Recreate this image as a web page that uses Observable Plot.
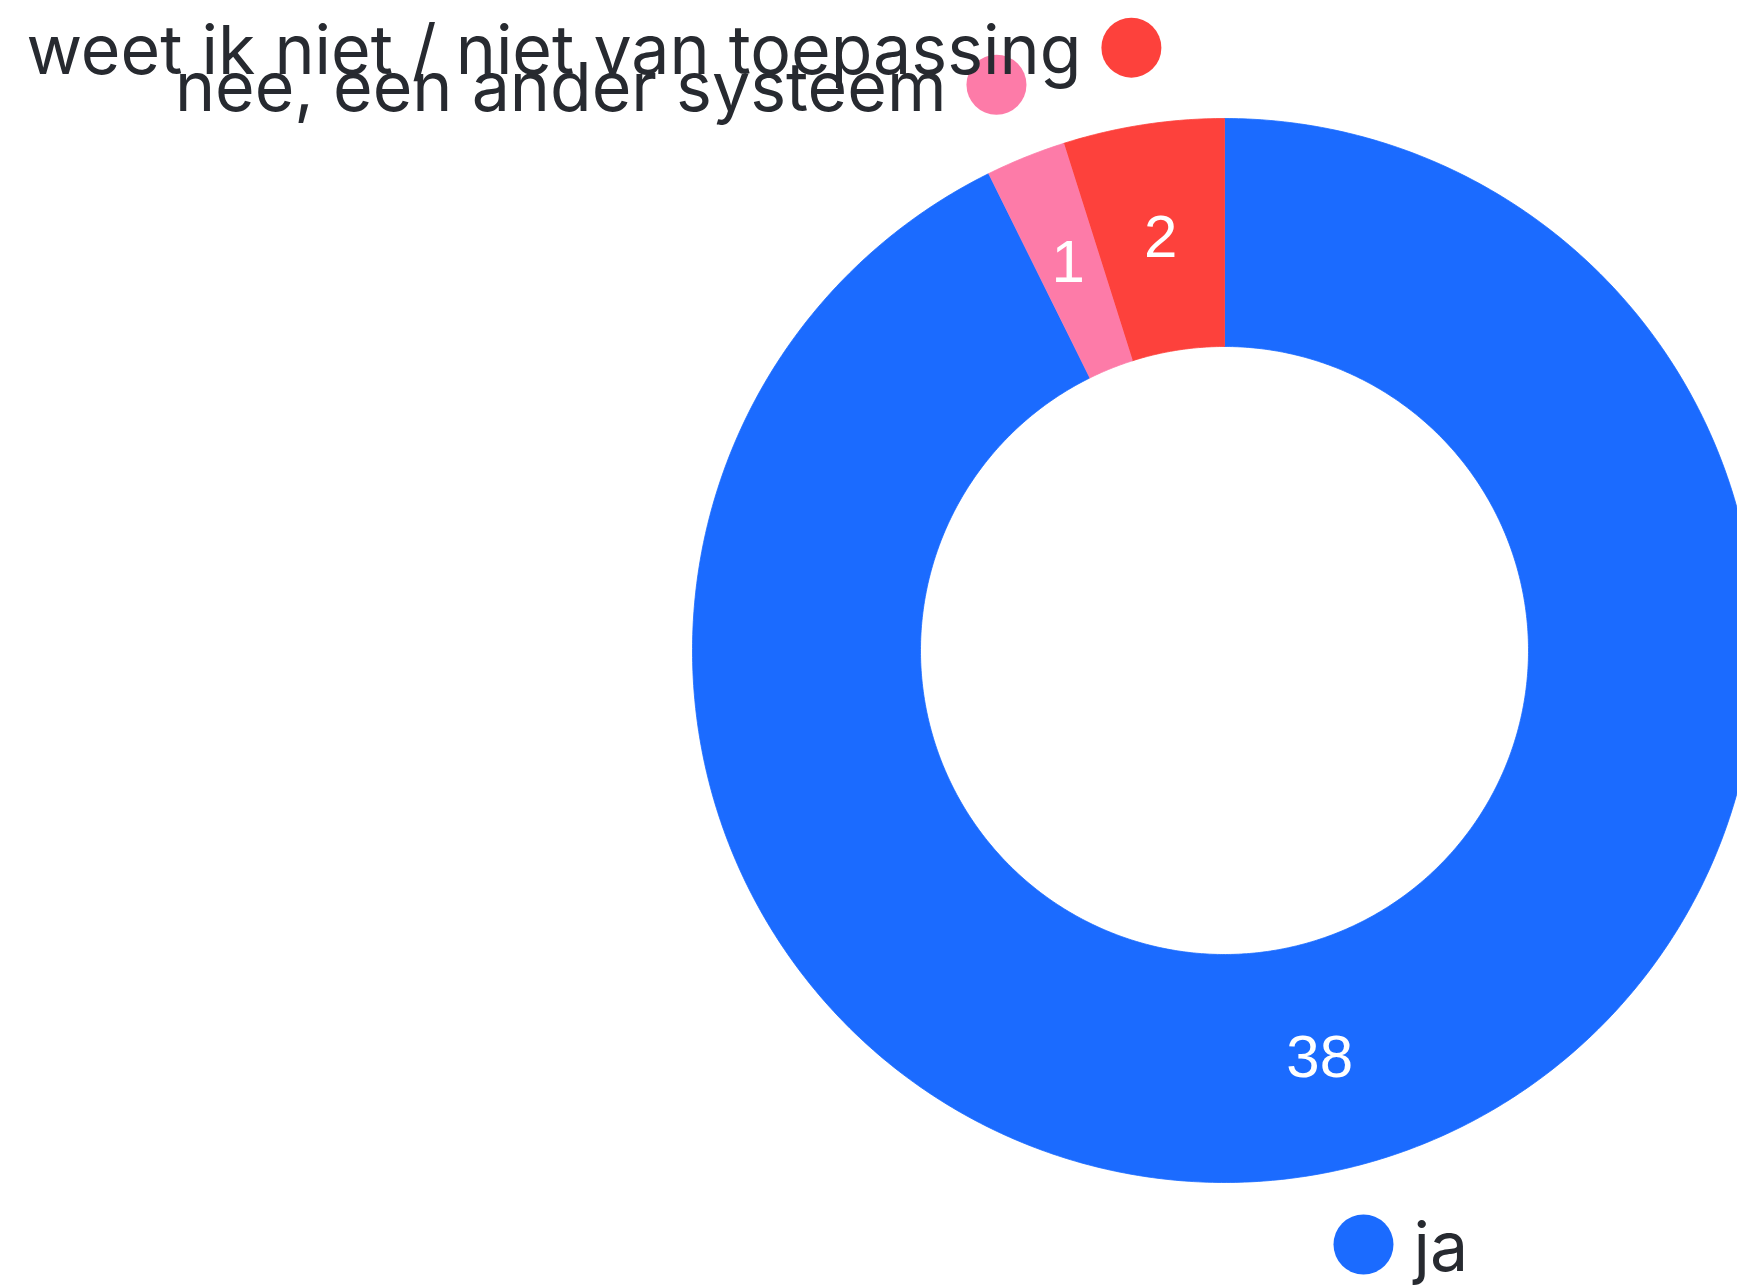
<!DOCTYPE html>
<html>
<head>
<meta charset="utf-8">
<script src="https://cdn.jsdelivr.net/npm/d3@7"></script>
<script src="https://cdn.jsdelivr.net/npm/@observablehq/plot@0.6"></script>
<style>
  html, body { margin: 0; padding: 0; background: #ffffff; }
  #chart svg { display: block; }
</style>
</head>
<body>
<div id="chart"></div>
<script>
// ---- data ----
const categories = ["ja", "nee, een ander systeem", "weet ik niet / niet van toepassing"];
const values = [38, 1, 2];
const colors = ["#1b6bff", "#fd7ba8", "#fd413c"];

// ---- layout ----
const W = 1737, H = 1287;
const cx = 1224, cy = 650;
const rOuter = 532, rInner = 304, rValue = 418, rLabel = 610;

const rows = categories.map((c, i) => ({key: c, value: values[i]}));
const arcs = d3.pie().sort(null).value(d => d.value)(rows);

// polygon points for each slice (outer arc, then inner arc back)
const pts = [];
for (const a of arcs) {
  const n = Math.max(8, Math.ceil((a.endAngle - a.startAngle) * 180 / Math.PI * 2));
  for (let i = 0; i <= n; i++) {
    const t = a.startAngle + (a.endAngle - a.startAngle) * i / n;
    pts.push({key: a.data.key, x: cx + rOuter * Math.sin(t), y: cy - rOuter * Math.cos(t)});
  }
  for (let i = n; i >= 0; i--) {
    const t = a.startAngle + (a.endAngle - a.startAngle) * i / n;
    pts.push({key: a.data.key, x: cx + rInner * Math.sin(t), y: cy - rInner * Math.cos(t)});
  }
}

const labels = arcs.map(a => {
  const m = (a.startAngle + a.endAngle) / 2;
  return {
    key: a.data.key,
    value: a.data.value,
    vx: cx + rValue * Math.sin(m), vy: cy - rValue * Math.cos(m),
    lx: cx + rLabel * Math.sin(m), ly: cy - rLabel * Math.cos(m),
    right: Math.sin(m) >= 0
  };
});

const labelFont = "Inter, Lato, 'Noto Sans', sans-serif";

const chart = Plot.plot({
  width: W, height: H,
  margin: 0,
  x: {domain: [0, W], axis: null},
  y: {domain: [H, 0], axis: null},
  color: {domain: categories, range: colors},
  style: {background: "#ffffff"},
  marks: [
    Plot.line(pts, {x: "x", y: "y", z: "key", fill: "key", stroke: "key", strokeWidth: 0.8, curve: "linear"}),
    Plot.text(labels, {x: "vx", y: "vy", text: d => String(d.value), fill: "#ffffff",
      fontSize: 60, fontFamily: "'Liberation Sans', Arial, sans-serif"}),
    Plot.dot(labels, {x: "lx", y: "ly", r: 30, fill: "key", stroke: null}),
    Plot.text(labels.filter(d => d.right), {x: "lx", y: "ly", text: "key", dx: 50, dy: 5, textAnchor: "start",
      fill: "#272a30", fontSize: 68, fontFamily: labelFont}),
    Plot.text(labels.filter(d => !d.right), {x: "lx", y: "ly", text: "key", dx: -50, dy: 5, textAnchor: "end",
      fill: "#272a30", fontSize: 68, fontFamily: labelFont})
  ]
});
document.getElementById("chart").appendChild(chart);
</script>
</body>
</html>
